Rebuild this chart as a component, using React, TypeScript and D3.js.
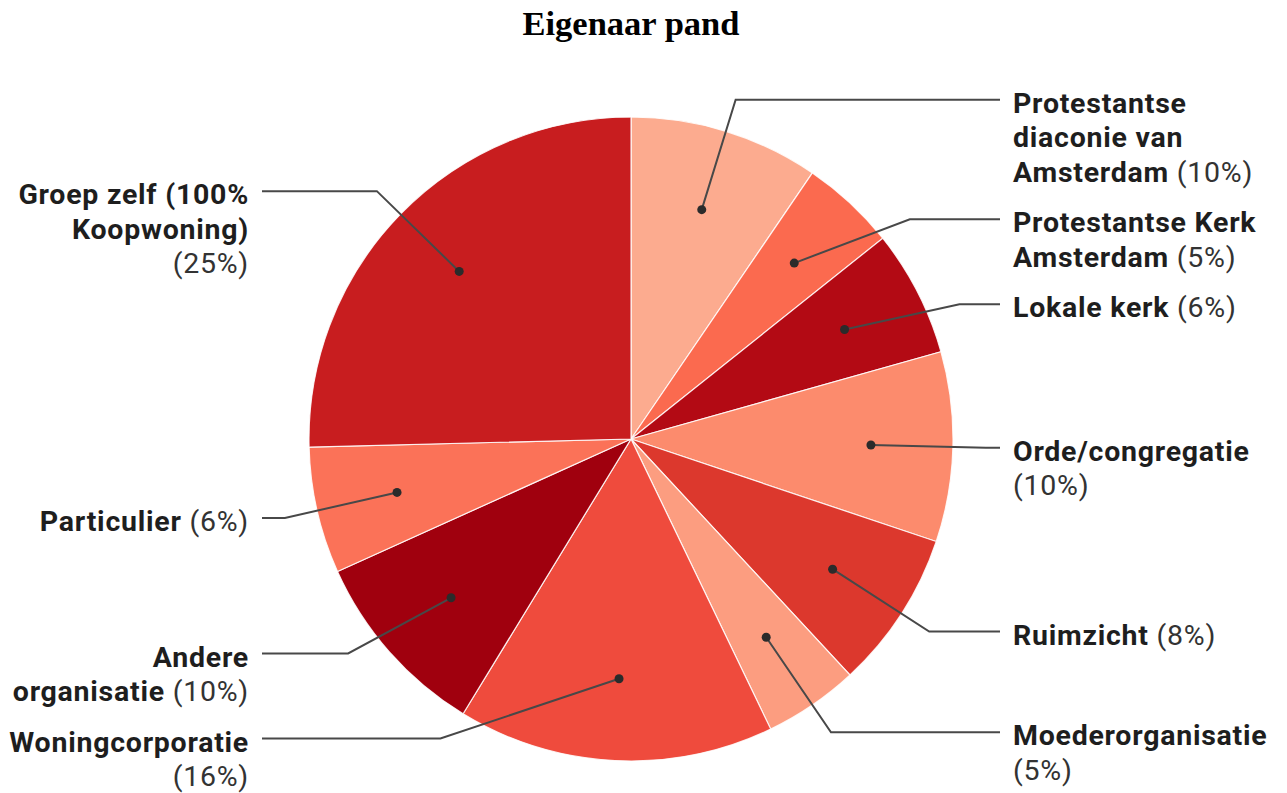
import React, { useMemo } from "react";
import * as d3 from "d3";

const categories: string[] = [
  "Protestantse diaconie van Amsterdam",
  "Protestantse Kerk Amsterdam",
  "Lokale kerk",
  "Orde/congregatie",
  "Ruimzicht",
  "Moederorganisatie",
  "Woningcorporatie",
  "Andere organisatie",
  "Particulier",
  "Groep zelf (100% Koopwoning)",
];
const counts: number[] = [6, 3, 4, 6, 5, 3, 10, 6, 4, 16];
const sliceColors: string[] = [
  "#fcab8f",
  "#fb6a4f",
  "#b30a14",
  "#fc8b6d",
  "#dc382d",
  "#fc9d80",
  "#ef4b3d",
  "#a0000e",
  "#fb7258",
  "#c81d1f",
];
const title = "Eigenaar pand";

const W = 1287;
const H = 793;
const cx = 631;
const cy = 439;
const R = 322;
const DOT_R = 240;
const ELBOW_R = 355;
const LINE_END = 369;
const TEXT_OFF = 382;
const FONT = 28.5;
const LS = 0.75;
const LINE_H = 34.5;
const BASE_OFF = 13;
const GAP = 16;
const BOTTOM = 786;
const WRAP = 252;
const FAMILY = "Roboto, 'Noto Sans', sans-serif";

type Word = { t: string; b: boolean };

let ctx: CanvasRenderingContext2D | null = null;
function measure(t: string, bold: boolean): number {
  if (!ctx) ctx = document.createElement("canvas").getContext("2d");
  if (!ctx) return t.length * FONT * 0.55;
  ctx.font = `${bold ? "bold " : ""}${FONT}px Roboto`;
  return ctx.measureText(t).width + LS * t.length;
}

function wrap(words: Word[]): Word[][] {
  const lines: Word[][] = [];
  let cur: Word[] = [];
  let width = 0;
  const space = measure(" ", false);
  for (const w of words) {
    const ww = measure(w.t, w.b);
    if (cur.length && width + space + ww > WRAP) {
      lines.push(cur);
      cur = [w];
      width = ww;
    } else {
      width += (cur.length ? space : 0) + ww;
      cur.push(w);
    }
  }
  if (cur.length) lines.push(cur);
  return lines;
}

export default function App() {
  const layout = useMemo(() => {
    const total = d3.sum(counts);
    const pie = d3
      .pie<number>()
      .sort(null)
      .value((d) => d)
      .startAngle(0)
      .endAngle(2 * Math.PI);
    const arcs = pie(counts);
    const arcGen = d3.arc<d3.PieArcDatum<number>>().innerRadius(0).outerRadius(R);
    const items = arcs.map((a, i) => {
      const mid = (a.startAngle + a.endAngle) / 2;
      const pct = Math.round((counts[i] / total) * 100);
      const words: Word[] = categories[i]
        .split(" ")
        .map((t) => ({ t, b: true }))
        .concat([{ t: `(${pct}%)`, b: false }]);
      const lines = wrap(words);
      return {
        i,
        path: arcGen(a) as string,
        mid,
        right: Math.sin(mid) >= 0,
        ideal: cy - ELBOW_R * Math.cos(mid),
        lines,
        y: 0,
        dot: [cx + DOT_R * Math.sin(mid), cy - DOT_R * Math.cos(mid)],
      };
    });
    for (const side of [true, false]) {
      const s = items.filter((d) => d.right === side).sort((a, b) => a.ideal - b.ideal);
      s.forEach((d, k) => {
        d.y = k === 0 ? d.ideal : Math.max(d.ideal, s[k - 1].y + s[k - 1].lines.length * LINE_H + GAP);
      });
      for (let k = s.length - 1; k >= 0; k--) {
        const d = s[k];
        const limit =
          k === s.length - 1
            ? BOTTOM - BASE_OFF - (d.lines.length - 1) * LINE_H
            : s[k + 1].y - d.lines.length * LINE_H - GAP;
        d.y = Math.min(d.y, limit);
      }
    }
    return items;
  }, []);

  return (
    <div style={{ position: "absolute", left: 0, top: 0 }}>
      <svg width={W} height={H} style={{ display: "block", background: "#fff" }}>
        <text
          x={cx}
          y={35}
          textAnchor="middle"
          fontFamily="'Liberation Serif', 'Times New Roman', serif"
          fontWeight="bold"
          fontSize={34.5}
          fill="#000"
        >
          {title}
        </text>
        <g>
          {layout.map((d) => (
            <path key={d.i} d={d.path} transform={`translate(${cx},${cy})`} fill={sliceColors[d.i]} stroke="#fff" strokeOpacity={0.85} strokeWidth={1.2} />
          ))}
        </g>
        <g>
          {layout.map((d) => {
            const dy = d.y - cy;
            const ex = Math.sqrt(Math.max(0, ELBOW_R * ELBOW_R - dy * dy));
            const elbowX = d.right ? cx + ex : cx - ex;
            const endX = d.right ? cx + LINE_END : cx - LINE_END;
            const pts: [number, number][] = [
              [d.dot[0], d.dot[1]],
              [elbowX, d.y],
              [endX, d.y],
            ];
            return (
              <g key={d.i}>
                <path d={d3.line()(pts) as string} fill="none" stroke="#484848" strokeWidth={2} />
                <circle cx={d.dot[0]} cy={d.dot[1]} r={4.5} fill="#2b2b2b" />
              </g>
            );
          })}
        </g>
        <g fontFamily={FAMILY} fontSize={FONT} letterSpacing={LS}>
          {layout.map((d) =>
            d.lines.map((line, li) => (
              <text
                key={`${d.i}-${li}`}
                x={d.right ? cx + TEXT_OFF : cx - TEXT_OFF}
                y={d.y + BASE_OFF + li * LINE_H}
                textAnchor={d.right ? "start" : "end"}
              >
                {line.map((w, wi) => (
                  <tspan key={wi} fontWeight={w.b ? "bold" : "normal"} fill={w.b ? "#1e1e1e" : "#333"}>
                    {(wi > 0 ? " " : "") + w.t}
                  </tspan>
                ))}
              </text>
            ))
          )}
        </g>
      </svg>
    </div>
  );
}
